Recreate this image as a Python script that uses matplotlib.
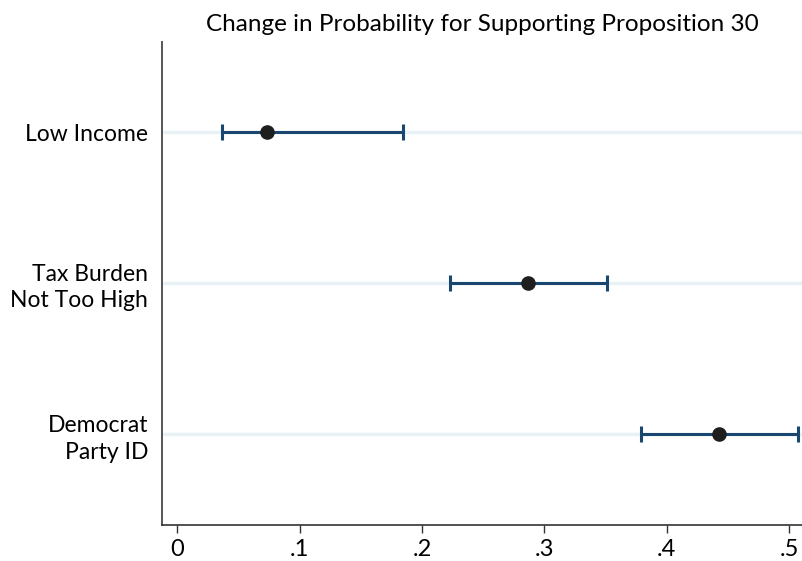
import matplotlib.pyplot as plt

plt.rcParams['font.family'] = ['Lato', 'DejaVu Sans']

# coefficient estimates and 95% CIs
labels = ['Low Income', 'Tax Burden\nNot Too High', 'Democrat\nParty ID']
estimates = [0.0733, 0.2868, 0.4430]
ci_low = [0.0365, 0.2225, 0.3790]
ci_high = [0.1846, 0.3510, 0.5070]
xticks = [0, 0.1, 0.2, 0.3, 0.4, 0.5]
xtick_labels = ['0', '.1', '.2', '.3', '.4', '.5']

fig = plt.figure(figsize=(8.02, 5.61), dpi=100)
ax = fig.add_axes([0.202, 0.064, 0.798, 0.8617])

ypos = list(range(1, len(labels) + 1))

# light horizontal guide lines behind each row
for y in ypos:
    ax.axhline(y, color='#e8f1f5', linewidth=2.5, zorder=0)

lower = [e - l for e, l in zip(estimates, ci_low)]
upper = [h - e for e, h in zip(estimates, ci_high)]
ax.errorbar(estimates, ypos, xerr=[lower, upper], fmt='none',
            ecolor='#1a476f', elinewidth=2.2, capsize=6, capthick=2.2, zorder=2)
ax.plot(estimates, ypos, 'o', color='#1e1e1e', markersize=9.5, zorder=3)

ax.set_xlim(-0.0125, 0.5106)
ax.set_ylim(3.6, 0.4)
ax.set_xticks(xticks)
ax.set_xticklabels(xtick_labels, fontsize=17)
ax.set_yticks(ypos)
ax.set_yticklabels(labels, fontsize=16.5, linespacing=1.3)
ax.tick_params(axis='y', length=0, pad=10)
ax.tick_params(axis='x', length=6, width=1, color='#333333', pad=4)

ax.spines['top'].set_visible(False)
ax.spines['right'].set_visible(False)
ax.spines['left'].set_color('#555555')
ax.spines['left'].set_linewidth(1.4)
ax.spines['bottom'].set_color('#333333')
ax.spines['bottom'].set_linewidth(1.2)

ax.set_title('Change in Probability for Supporting Proposition 30', fontsize=17.5, pad=8)

fig.savefig('out.png', dpi=100)
